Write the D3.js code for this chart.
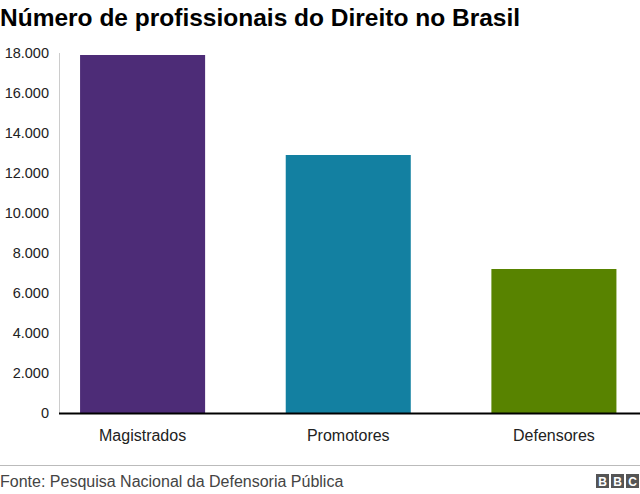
<!DOCTYPE html>
<html><head><meta charset="utf-8">
<script src="https://cdn.jsdelivr.net/npm/d3@7"></script>
<style>body{margin:0;background:#fff}svg{display:block}text{font-family:"Liberation Sans",Arial,Helvetica,sans-serif}</style>
</head><body>
<script>
const categories = ["Magistrados", "Promotores", "Defensores"];
const values = [17900, 12900, 7200];
const colors = ["#4d2c77", "#1380a1", "#588300"];
const yTicks = [0, 2000, 4000, 6000, 8000, 10000, 12000, 14000, 16000, 18000];
const title = "Número de profissionais do Direito no Brasil";
const source = "Fonte: Pesquisa Nacional da Defensoria Pública";

const W = 640, H = 494;
const svg = d3.select("body").append("svg").attr("width", W).attr("height", H);

svg.append("text").attr("x", 0).attr("y", 26).attr("font-size", 24.5).attr("font-weight", "bold")
  .attr("fill", "#000").text(title);

const y = d3.scaleLinear().domain([0, 18000]).range([413, 53]);
const x = d3.scaleBand().domain(categories).range([59.5, 637]).paddingInner(0.392).paddingOuter(0.1);

svg.append("line").attr("x1", 59.5).attr("x2", 59.5).attr("y1", y(18000)).attr("y2", y(0))
  .attr("stroke", "#cccccc").attr("stroke-width", 1);

const fmt = d => d3.format(",")(d).replace(/,/g, ".");
const yAxis = svg.append("g").attr("transform", "translate(49,0)")
  .call(d3.axisLeft(y).tickValues(yTicks).tickFormat(fmt).tickSize(0).tickPadding(0));
yAxis.select(".domain").remove();
yAxis.selectAll("text").attr("font-size", 14.5).attr("fill", "#222").attr("font-family", "Liberation Sans, Arial, sans-serif");

svg.selectAll("rect.bar").data(categories).enter().append("rect").attr("class", "bar")
  .attr("x", d => x(d)).attr("width", x.bandwidth())
  .attr("y", (d, i) => y(values[i])).attr("height", (d, i) => y(0) - y(values[i]))
  .attr("fill", (d, i) => colors[i]);

svg.append("line").attr("x1", 59).attr("x2", 640).attr("y1", y(0) + 0.5).attr("y2", y(0) + 0.5)
  .attr("stroke", "#000").attr("stroke-width", 2);

const xAxis = svg.append("g").attr("transform", `translate(0,${y(0)})`)
  .call(d3.axisBottom(x).tickSize(0).tickPadding(17));
xAxis.select(".domain").remove();
xAxis.selectAll("text").attr("font-size", 16).attr("fill", "#222").attr("font-family", "Liberation Sans, Arial, sans-serif");

svg.append("line").attr("x1", 0).attr("x2", 640).attr("y1", 465.5).attr("y2", 465.5)
  .attr("stroke", "#bbbbbb").attr("stroke-width", 1);
svg.append("text").attr("x", 0).attr("y", 487).attr("font-size", 16).attr("fill", "#444").text(source);

const logo = svg.append("g").attr("transform", "translate(596,474)");
["B", "B", "C"].forEach((l, i) => {
  logo.append("rect").attr("x", i * 15).attr("y", 0).attr("width", 13).attr("height", 14).attr("fill", "#555");
  logo.append("text").attr("x", i * 15 + 6.5).attr("y", 11.5).attr("text-anchor", "middle")
    .attr("font-size", 12).attr("font-weight", "bold").attr("fill", "#fff").text(l);
});
</script>
</body></html>
